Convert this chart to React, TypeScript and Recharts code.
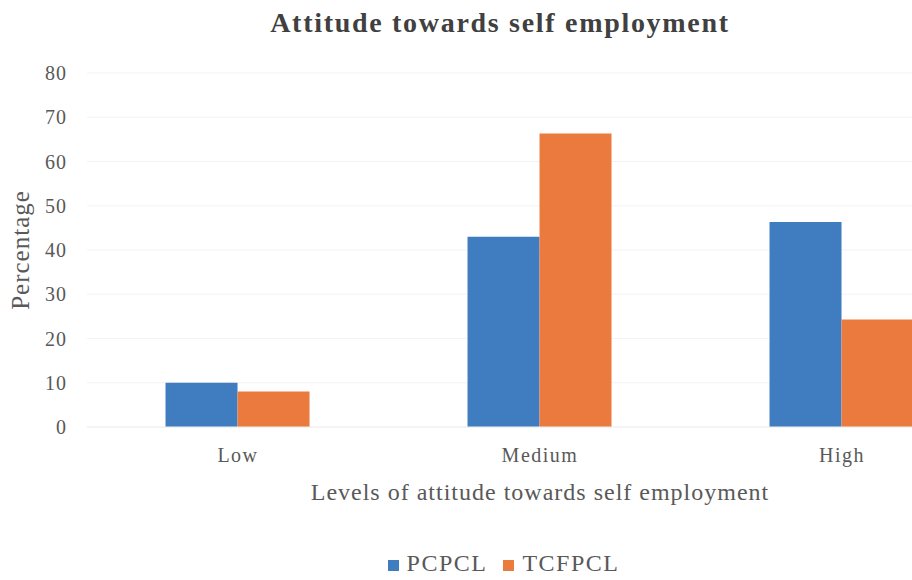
import { Bar, BarChart, CartesianGrid, Label, Legend, XAxis, YAxis } from "recharts";

const levels = ["Low", "Medium", "High"];
const pcpcl = [10, 43, 46.3];
const tcfpcl = [8, 66.3, 24.3];
const yTicks = [0, 10, 20, 30, 40, 50, 60, 70, 80];

const data = levels.map((level, i) => ({
  level,
  PCPCL: pcpcl[i],
  TCFPCL: tcfpcl[i],
}));

const serif = '"Liberation Serif", "Times New Roman", serif';
const textGray = "#595959";

export default function App() {
  return (
    <div
      style={{
        position: "fixed",
        left: 0,
        top: 0,
        width: 912,
        height: 580,
        overflow: "hidden",
        background: "#fff",
      }}
    >
      {/* title */}
      <div
        style={{
          position: "absolute",
          left: 0,
          top: 7,
          width: 1000,
          textAlign: "center",
          fontFamily: serif,
          fontWeight: "bold",
          fontSize: 28,
          letterSpacing: 1.7,
          color: "#404040",
        }}
      >
        Attitude towards self employment
      </div>

      <BarChart
        width={1000}
        height={580}
        data={data}
        margin={{ top: 73, right: 7, left: 0, bottom: 0 }}
        barCategoryGap="26%"
        barGap={0}
      >
        <CartesianGrid vertical={false} stroke="#f3f3f3" />

        <XAxis
          dataKey="level"
          height={123}
          axisLine={{ stroke: "#eeeeee" }}
          tickLine={false}
          tickSize={0}
          tickMargin={21}
          tick={{
            fill: textGray,
            fontSize: 20,
            fontFamily: serif,
            letterSpacing: 1.5,
          }}
        >
          <Label
            value="Levels of attitude towards self employment"
            position="insideTop"
            offset={56}
            style={{
              fill: textGray,
              fontSize: 24,
              fontFamily: serif,
              letterSpacing: 1,
            }}
          />
        </XAxis>

        <YAxis
          width={87}
          domain={[0, 80]}
          ticks={yTicks}
          axisLine={false}
          tickLine={false}
          tickSize={0}
          tickMargin={20}
          tick={{
            fill: textGray,
            fontSize: 20,
            fontFamily: serif,
            letterSpacing: 1,
          }}
        >
          <Label
            value="Percentage"
            angle={-90}
            position="insideLeft"
            offset={20}
            style={{
              fill: textGray,
              fontSize: 25,
              fontFamily: serif,
              textAnchor: "middle",
              letterSpacing: 1,
            }}
          />
        </YAxis>

        <Legend
          verticalAlign="bottom"
          iconType="square"
          iconSize={11}
          wrapperStyle={{
            height: 30,
            paddingLeft: 30,
            boxSizing: "border-box",
            fontFamily: serif,
            fontSize: 24,
            letterSpacing: 1.5,
          }}
          formatter={(value) => (
            <span style={{ color: textGray, marginLeft: 4, marginRight: 6 }}>
              {value}
            </span>
          )}
        />

        <Bar dataKey="PCPCL" fill="#3f7dc0" isAnimationActive={false} />
        <Bar dataKey="TCFPCL" fill="#eb7a3f" isAnimationActive={false} />
      </BarChart>
    </div>
  );
}
